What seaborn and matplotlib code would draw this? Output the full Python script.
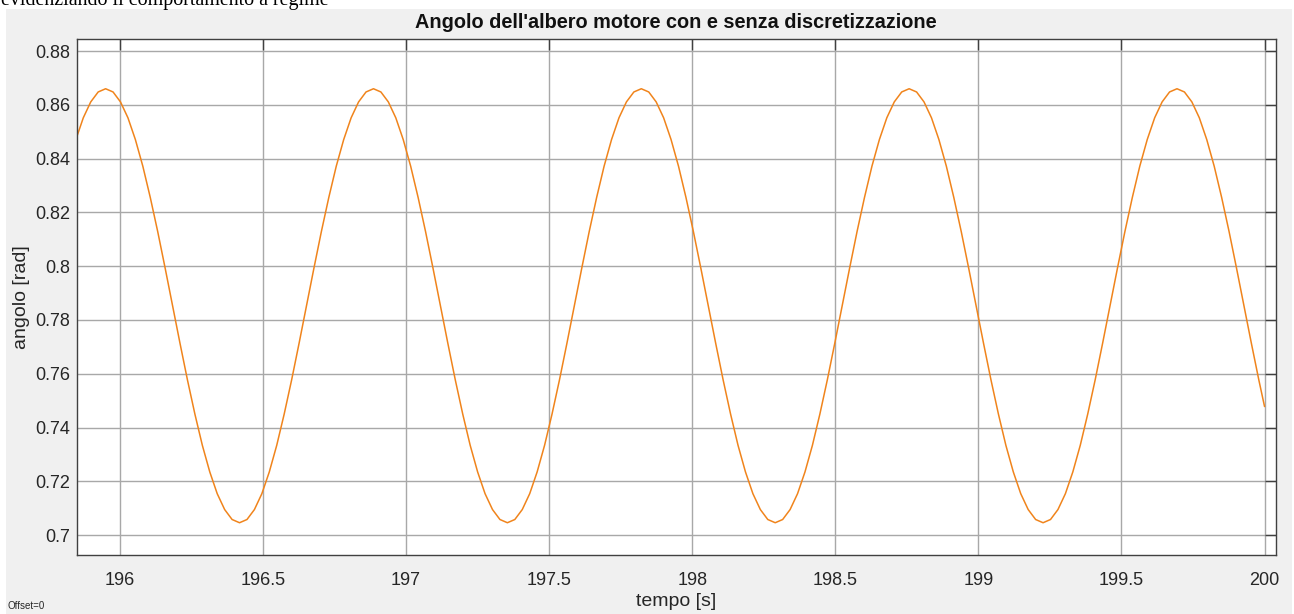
import matplotlib
matplotlib.use("Agg")
import matplotlib.pyplot as plt
import seaborn as sns
import pandas as pd
from matplotlib.patches import Rectangle

# ---- data ----
tempo = [
    195.846, 195.872, 195.898, 195.924,
    195.950, 195.976, 196.002, 196.028, 196.054, 196.080, 196.106, 196.132, 196.158,
    196.184, 196.210, 196.236, 196.262, 196.288, 196.314, 196.340, 196.366, 196.392,
    196.418, 196.444, 196.470, 196.496, 196.522, 196.548, 196.574, 196.600, 196.626,
    196.652, 196.678, 196.704, 196.730, 196.756, 196.782, 196.808, 196.834, 196.860,
    196.886, 196.912, 196.938, 196.964, 196.990, 197.016, 197.042, 197.068, 197.094,
    197.120, 197.146, 197.172, 197.198, 197.224, 197.250, 197.276, 197.302, 197.328,
    197.354, 197.380, 197.406, 197.432, 197.458, 197.484, 197.510, 197.536, 197.562,
    197.588, 197.614, 197.640, 197.666, 197.692, 197.718, 197.744, 197.770, 197.796,
    197.822, 197.848, 197.874, 197.900, 197.926, 197.952, 197.978, 198.004, 198.030,
    198.056, 198.082, 198.108, 198.134, 198.160, 198.186, 198.212, 198.238, 198.264,
    198.290, 198.316, 198.342, 198.368, 198.394, 198.420, 198.446, 198.472, 198.498,
    198.524, 198.550, 198.576, 198.602, 198.628, 198.654, 198.680, 198.706, 198.732,
    198.758, 198.784, 198.810, 198.836, 198.862, 198.888, 198.914, 198.940, 198.966,
    198.992, 199.018, 199.044, 199.070, 199.096, 199.122, 199.148, 199.174, 199.200,
    199.226, 199.252, 199.278, 199.304, 199.330, 199.356, 199.382, 199.408, 199.434,
    199.460, 199.486, 199.512, 199.538, 199.564, 199.590, 199.616, 199.642, 199.668,
    199.694, 199.720, 199.746, 199.772, 199.798, 199.824, 199.850, 199.876, 199.902,
    199.928, 199.954, 199.980, 200.000,
]
angolo = [
    0.8471, 0.8552, 0.8611, 0.8648,
    0.8660, 0.8648, 0.8611, 0.8552, 0.8471, 0.8372, 0.8256, 0.8129, 0.7993,
    0.7853, 0.7713, 0.7577, 0.7450, 0.7334, 0.7235, 0.7154, 0.7095, 0.7058,
    0.7046, 0.7058, 0.7095, 0.7154, 0.7235, 0.7334, 0.7450, 0.7577, 0.7713,
    0.7853, 0.7993, 0.8129, 0.8256, 0.8372, 0.8471, 0.8552, 0.8611, 0.8648,
    0.8660, 0.8648, 0.8611, 0.8552, 0.8471, 0.8372, 0.8256, 0.8129, 0.7993,
    0.7853, 0.7713, 0.7577, 0.7450, 0.7334, 0.7235, 0.7154, 0.7095, 0.7058,
    0.7046, 0.7058, 0.7095, 0.7154, 0.7235, 0.7334, 0.7450, 0.7577, 0.7713,
    0.7853, 0.7993, 0.8129, 0.8256, 0.8372, 0.8471, 0.8552, 0.8611, 0.8648,
    0.8660, 0.8648, 0.8611, 0.8552, 0.8471, 0.8372, 0.8256, 0.8129, 0.7993,
    0.7853, 0.7713, 0.7577, 0.7450, 0.7334, 0.7235, 0.7154, 0.7095, 0.7058,
    0.7046, 0.7058, 0.7095, 0.7154, 0.7235, 0.7334, 0.7450, 0.7577, 0.7713,
    0.7853, 0.7993, 0.8129, 0.8256, 0.8372, 0.8471, 0.8552, 0.8611, 0.8648,
    0.8660, 0.8648, 0.8611, 0.8552, 0.8471, 0.8372, 0.8256, 0.8129, 0.7993,
    0.7853, 0.7713, 0.7577, 0.7450, 0.7334, 0.7235, 0.7154, 0.7095, 0.7058,
    0.7046, 0.7058, 0.7095, 0.7154, 0.7235, 0.7334, 0.7450, 0.7577, 0.7713,
    0.7853, 0.7993, 0.8129, 0.8256, 0.8372, 0.8471, 0.8552, 0.8611, 0.8648,
    0.8660, 0.8648, 0.8611, 0.8552, 0.8471, 0.8372, 0.8256, 0.8129, 0.7993,
    0.7853, 0.7713, 0.7577, 0.7478,
]
x_ticks = [196, 196.5, 197, 197.5, 198, 198.5, 199, 199.5, 200]
x_tick_labels = ["196", "196.5", "197", "197.5", "198", "198.5", "199", "199.5", "200"]
y_ticks = [0.7, 0.72, 0.74, 0.76, 0.78, 0.8, 0.82, 0.84, 0.86, 0.88]
y_tick_labels = ["0.7", "0.72", "0.74", "0.76", "0.78", "0.8", "0.82", "0.84", "0.86", "0.88"]

title = "Angolo dell'albero motore con e senza discretizzazione"
xlabel = "tempo [s]"
ylabel = "angolo [rad]"
header = "evidenziando il comportamento a regime"

df = pd.DataFrame({"tempo": tempo, "angolo": angolo})

sns.set_theme(style="white")
plt.rcParams["font.family"] = ["Liberation Sans", "DejaVu Sans"]

W, H = 1294, 614
fig = plt.figure(figsize=(W / 100, H / 100), dpi=100)
fig.patch.set_facecolor("white")
fig.patches.append(Rectangle((6 / W, 0), 1286 / W, 1 - 9 / H, transform=fig.transFigure,
                             facecolor="#f0f0f0", edgecolor="none", zorder=-10))

ax = fig.add_axes([77 / W, 1 - 555 / H, (1276 - 77) / W, (555 - 39) / H])
ax.set_zorder(5)
ax.set_facecolor("white")

sns.lineplot(data=df, x="tempo", y="angolo", ax=ax, color="#f0841c", linewidth=1.1,
             sort=False, estimator=None)

ax.set_xlim(195.85, 200.04)
ax.set_ylim(0.6926, 0.8845)
ax.set_xticks(x_ticks)
ax.set_xticklabels(x_tick_labels)
ax.set_yticks(y_ticks)
ax.set_yticklabels(y_tick_labels)
ax.grid(True, color="#a8a8a8", linewidth=1.0)
ax.set_axisbelow(True)
ax.set_xlabel("")
ax.set_ylabel("")

tc = "#262626"
ax.tick_params(axis="both", direction="in", length=8, width=1, color="#404040",
               labelcolor=tc, labelsize=13, top=True, right=True)
ax.tick_params(axis="x", pad=12)
ax.tick_params(axis="y", pad=5)
for s in ax.spines.values():
    s.set_color("#404040")
    s.set_linewidth(1.0)
    s.set_visible(True)

fig.text(676 / W, 1 - 23 / H, title, ha="center", va="center", fontsize=14.3,
         fontweight="bold", color="#111111", zorder=6)
fig.text(676 / W, 1 - 602 / H, xlabel, ha="center", va="center", fontsize=14, color=tc,
         zorder=6)
fig.text(22 / W, 1 - 297 / H, ylabel, ha="center", va="center", fontsize=14, color=tc,
         rotation=90, zorder=6)
fig.text(8 / W, 1 - 606 / H, "Offset=0", ha="left", va="center", fontsize=7, color=tc,
         zorder=6)
fig.text(1 / W, 1 - 5 / H, header, ha="left", va="baseline", fontsize=14.4,
         family=["Liberation Serif", "DejaVu Serif"], color="black", zorder=6)

fig.savefig("out.png", dpi=100)
